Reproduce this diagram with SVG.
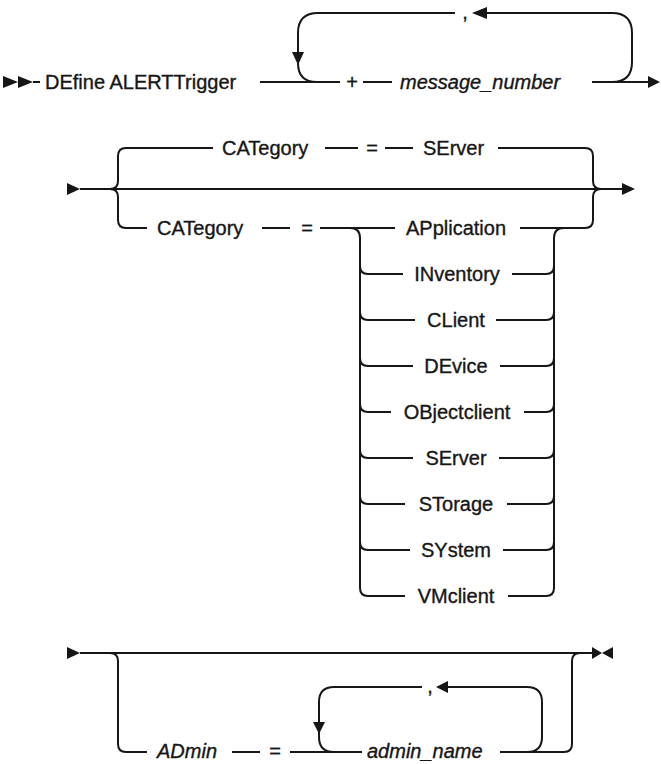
<svg xmlns="http://www.w3.org/2000/svg" width="661" height="764" viewBox="0 0 661 764">
<style>
.ln{fill:none;stroke:#161616;stroke-width:2;stroke-linejoin:round}
.ah{fill:#161616;stroke:none}
text{font-family:"Liberation Sans",Arial,sans-serif;font-size:20px;fill:#161616;stroke:#161616;stroke-width:0.35}
.it{font-style:italic}
.m{text-anchor:middle}
</style>
<rect width="661" height="764" fill="#ffffff"/>
<g id="connectors">
  <!-- row 1 -->
  <path class="ln" d="M33,82 L40,82"/>
  <path class="ln" d="M260,82 L340,82 M363,82 L392,82 M592,82 L649,82"/>
  <path class="ln" d="M317,82 Q298,82 298,63 L298,33 Q298,13 318,13 L455,13"/>
  <path class="ln" d="M486,13 L612,13 Q632,13 632,33 L632,62 Q632,82 612,82"/>
  <!-- row 2 -->
  <path class="ln" d="M80,189 L623,189"/>
  <path class="ln" d="M110,189 Q118,189 118,181 L118,156 Q118,148 126,148 L213,148"/>
  <path class="ln" d="M110,189 Q118,189 118,197 L118,220 Q118,228 126,228 L147,228"/>
  <path class="ln" d="M325,148 L358,148 M385,148 L413,148 M498,148 L585,148 Q593,148 593,156 L593,181 Q593,189 601,189"/>
  <path class="ln" d="M262,228 L290,228 M320,228 L395,228 M520,228 L585,228 Q593,228 593,220 L593,197 Q593,189 601,189"/>
  <path class="ln" d="M350,228 Q360,228 360,238 L360,588 Q360,596 368,596"/>
  <path class="ln" d="M554,238 Q554,228 564,228"/>
  <path class="ln" d="M554,238 L554,588 Q554,596 546,596"/>
  <path class="ln" d="M360,266 Q360,274 368,274 L403,274 M512,274 L546,274 Q554,274 554,266"/>
  <path class="ln" d="M360,312 Q360,320 368,320 L415,320 M496,320 L546,320 Q554,320 554,312"/>
  <path class="ln" d="M360,358 Q360,366 368,366 L413,366 M500,366 L546,366 Q554,366 554,358"/>
  <path class="ln" d="M360,404 Q360,412 368,412 L391,412 M524,412 L546,412 Q554,412 554,404"/>
  <path class="ln" d="M360,450 Q360,458 368,458 L413,458 M499,458 L546,458 Q554,458 554,450"/>
  <path class="ln" d="M360,496 Q360,504 368,504 L405,504 M507,504 L546,504 Q554,504 554,496"/>
  <path class="ln" d="M360,542 Q360,550 368,550 L410,550 M503,550 L546,550 Q554,550 554,542"/>
  <path class="ln" d="M368,596 L405,596 M508,596 L546,596"/>
  <!-- row 3 -->
  <path class="ln" d="M80,653 L593,653"/>
  <path class="ln" d="M110,653 Q118,653 118,661 L118,744 Q118,752 126,752 L147,752"/>
  <path class="ln" d="M232,752 L260,752 M290,752 L362,752 M500,752 L564,752 Q572,752 572,744 L572,661 Q572,653 580,653"/>
  <path class="ln" d="M334,752 Q319,752 319,737 L319,702 Q319,687 334,687 L422,687"/>
  <path class="ln" d="M447,687 L527,687 Q542,687 542,702 L542,737 Q542,752 527,752"/>
  <!-- arrowheads -->
  <polygon class="ah" points="3,76 3,88 18,82"/>
  <polygon class="ah" points="18,76 18,88 33,82"/>
  <polygon class="ah" points="648,76 648,88 660,82"/>
  <polygon class="ah" points="292,52 304,52 298,65"/>
  <polygon class="ah" points="487,7 487,19 472,13"/>
  <polygon class="ah" points="67,183 67,195 80,189"/>
  <polygon class="ah" points="622,183 622,195 635,189"/>
  <polygon class="ah" points="67,647 67,659 80,653"/>
  <polygon class="ah" points="592,647 592,659 602,653"/>
  <polygon class="ah" points="613,647 613,659 602,653"/>
  <polygon class="ah" points="313,722 325,722 319,734"/>
  <polygon class="ah" points="448,681 448,693 436,687"/>
</g>
<g id="n-define"><text x="45" y="89">DEfine ALERTTrigger</text></g>
<g id="n-plus"><text class="m" x="352" y="89">+</text></g>
<g id="n-msgnum"><text class="it" x="400" y="89">message_number</text></g>
<g id="n-comma1"><text class="m" x="465" y="19">,</text></g>
<g id="n-cat1"><text x="222" y="155">CATegory</text></g>
<g id="n-eq1"><text class="m" x="372" y="155">=</text></g>
<g id="n-server1"><text x="423" y="155">SErver</text></g>
<g id="n-cat2"><text x="157" y="235">CATegory</text></g>
<g id="n-eq2"><text class="m" x="307" y="235">=</text></g>
<g id="n-application"><text class="m" x="456" y="235">APplication</text></g>
<g id="n-inventory"><text class="m" x="457" y="281">INventory</text></g>
<g id="n-client"><text class="m" x="456" y="327">CLient</text></g>
<g id="n-device"><text class="m" x="456" y="373">DEvice</text></g>
<g id="n-objectclient"><text class="m" x="457" y="419">OBjectclient</text></g>
<g id="n-server2"><text class="m" x="456" y="465">SErver</text></g>
<g id="n-storage"><text class="m" x="456" y="511">STorage</text></g>
<g id="n-system"><text class="m" x="456" y="557">SYstem</text></g>
<g id="n-vmclient"><text class="m" x="456" y="603">VMclient</text></g>
<g id="n-admin"><text class="it" x="157" y="758">ADmin</text></g>
<g id="n-eq3"><text class="m" x="275" y="758">=</text></g>
<g id="n-comma2"><text class="m" x="430" y="693">,</text></g>
<g id="n-adminname"><text class="it" x="367" y="758">admin_name</text></g>
</svg>
